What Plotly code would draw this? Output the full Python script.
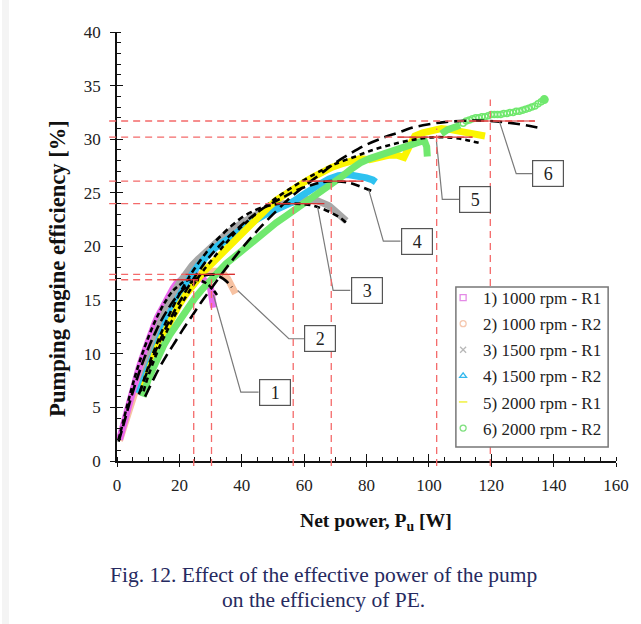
import plotly.graph_objects as go

# ---------------- data ----------------
series_names = ["1) 1000 rpm - R1", "2) 1000 rpm - R2", "3) 1500 rpm - R1",
                "4) 1500 rpm - R2", "5) 2000 rpm - R1", "6) 2000 rpm - R2"]

s1_x = [0.8, 2, 3, 4, 5, 6, 7, 8, 9, 10, 11, 12, 13, 14, 15, 16, 17, 18, 19, 20, 21, 22, 23, 24, 25,
        26, 27, 28, 29, 30, 30.6, 31, 31]
s1_y = [2.0, 3.4, 4.5, 5.5, 6.6, 7.6, 8.6, 9.5, 10.4, 11.2, 12.0, 12.7, 13.4, 14.0, 14.6, 15.2, 15.7,
        16.1, 16.5, 16.8, 17.0, 17.2, 17.3, 17.4, 17.4, 17.3, 17.1, 16.9, 16.6, 16.1, 15.3, 14.6, 14.3]

s2_x = [0.8, 2, 3, 4, 5, 6, 8, 10, 12, 14, 16, 18, 20, 22, 24, 26, 28, 30, 32, 34, 35.5, 36.5, 37.5, 38]
s2_y = [1.9, 3.0, 4.0, 5.1, 6.1, 7.1, 8.9, 10.6, 12.1, 13.4, 14.5, 15.4, 16.1, 16.7, 17.1, 17.4, 17.6,
        17.7, 17.7, 17.5, 17.0, 16.3, 15.8, 15.6]

s3_x = [7.5, 8.5, 10, 12, 14, 16, 18, 20, 22, 24, 26, 28, 30, 32, 34, 36, 38, 40, 43, 46, 49, 52, 55,
        58, 61, 64, 66, 68, 70, 71.5, 72.5, 73.5]
s3_y = [6.6, 7.7, 9.3, 11.3, 13.0, 14.4, 15.6, 16.6, 17.5, 18.2, 18.8, 19.4, 19.9, 20.4, 20.9, 21.4,
        21.8, 22.2, 22.7, 23.2, 23.6, 23.9, 24.1, 24.3, 24.4, 24.3, 24.1, 23.8, 23.3, 22.9, 22.6, 22.4]

s4_x = [7, 8, 9, 10, 12, 14, 16, 18, 20, 22, 24, 26, 28, 30, 32, 35, 38, 41, 44, 47, 50, 53, 56, 59,
        62, 65, 68, 71, 74, 77, 80, 82, 83]
s4_y = [6.3, 7.1, 8.0, 8.8, 10.4, 11.9, 13.2, 14.4, 15.5, 16.5, 17.4, 18.2, 18.9, 19.5, 20.0, 20.6,
        21.3, 21.9, 22.4, 22.9, 23.3, 23.7, 24.1, 24.7, 25.3, 25.8, 26.3, 26.6, 26.7, 26.6, 26.4, 26.2, 26.0]

s5_x = [8.5, 10, 12, 14, 16, 18, 20, 22, 24, 26, 28, 30, 33, 36, 39, 42, 45, 48, 51, 54, 57, 60, 63,
        66, 69, 72, 75, 78, 81, 84, 87, 90, 92, 94, 95.5, 98, 101, 104, 107, 110, 113, 116, 118]
s5_y = [6.8, 8.2, 9.9, 11.3, 12.5, 13.6, 14.6, 15.5, 16.3, 17.0, 17.7, 18.3, 19.2, 20.0, 20.8, 21.7,
        22.6, 23.5, 24.3, 24.9, 25.5, 26.0, 26.5, 27.0, 27.4, 27.7, 28.0, 28.2, 28.1, 28.3, 28.5, 28.5,
        28.3, 29.5, 30.3, 30.6, 30.8, 31.0, 30.9, 30.7, 30.6, 30.4, 30.3]

s6_x = [8.3, 9, 10, 11.5, 13, 15, 17, 19, 21, 23, 25, 27, 29, 31, 33, 35, 37, 39, 41, 43, 45, 48, 51,
        54, 57, 60, 63, 66, 69, 72, 75, 78, 81, 84, 87, 90, 93, 96, 98.5, 99.3, 99.5, None,
        104, 106, 108, 110]
s6_y = [6.0, 6.8, 7.6, 8.6, 9.6, 10.8, 11.8, 12.7, 13.6, 14.4, 15.2, 15.9, 16.6, 17.2, 17.8, 18.4,
        18.9, 19.4, 19.9, 20.4, 20.8, 21.5, 22.2, 22.8, 23.4, 24.0, 24.6, 25.2, 25.8, 26.5, 27.2, 27.8,
        28.2, 28.5, 28.8, 29.1, 29.4, 29.7, 29.9, 29.3, 28.4, None, 30.5, 30.9, 31.1, 31.3]
s6_tail_x = [111, 112, 113, 114, 115, 116, 117, 118, 119, 120, 121, 122, 123, 124, 125, 126, 127,
             128, 129, 130, 131, 132, 133, 134, 135, 136, 137]
s6_tail_y = [31.5, 31.7, 31.8, 31.9, 32.0, 32.0, 32.1, 32.1, 32.2, 32.3, 32.3, 32.3, 32.3, 32.4, 32.4,
             32.5, 32.5, 32.6, 32.6, 32.7, 32.8, 32.9, 33.0, 33.1, 33.3, 33.5, 33.7]

fit1_x = [0.5, 2, 4, 6, 8, 10, 12, 14, 16, 18, 20, 22, 24.6, 27, 29, 31, 32.5]
fit1_y = [2.0, 3.7, 6.0, 8.1, 9.9, 11.5, 12.9, 14.1, 15.1, 15.9, 16.4, 16.8, 16.9, 16.8, 16.5, 15.9, 15.3]
fit2_x = [0.5, 2, 4, 6, 8, 10, 12, 14, 16, 18, 20, 22, 24, 26, 28, 30.3, 32, 34, 36, 36.8]
fit2_y = [1.8, 3.3, 5.4, 7.3, 9.0, 10.5, 11.8, 13.0, 14.0, 14.9, 15.6, 16.2, 16.7, 17.1, 17.3, 17.4,
          17.3, 17.0, 16.5, 16.2]
fit3_x = [7.5, 9, 11, 13, 15, 17, 19, 21, 23, 25, 28, 31, 34, 37, 40, 43, 46, 50, 53, 56.5, 60, 63,
          66, 69, 71.5, 73.5]
fit3_y = [6.5, 7.9, 9.6, 11.1, 12.5, 13.8, 15.0, 16.1, 17.1, 18.0, 19.2, 20.3, 21.2, 22.0, 22.7, 23.2,
          23.6, 23.9, 24.0, 24.0, 23.95, 23.8, 23.5, 23.1, 22.7, 22.2]
fit4_x = [7, 9, 11, 13, 15, 17, 19, 21, 23, 26, 29, 32, 35, 38, 42, 46, 50, 54, 58, 62, 65, 68.7, 72,
          75, 78, 81.5]
fit4_y = [6.2, 7.8, 9.3, 10.7, 12.0, 13.2, 14.3, 15.3, 16.3, 17.6, 18.8, 19.8, 20.7, 21.5, 22.5, 23.4,
          24.1, 24.7, 25.3, 25.7, 25.95, 26.1, 26.05, 25.9, 25.6, 25.2]
fit5_x = [8.5, 10, 12, 14, 16, 18, 21, 24, 27, 30, 34, 38, 42, 46, 50, 55, 60, 65, 70, 76.5, 82, 88,
          94, 98, 102.5, 107, 111, 114, 117]
fit5_y = [6.5, 7.9, 9.5, 10.9, 12.1, 13.3, 14.8, 16.2, 17.5, 18.6, 20.0, 21.3, 22.4, 23.4, 24.3, 25.3,
          26.2, 27.0, 27.7, 28.4, 29.0, 29.5, 29.9, 30.1, 30.2, 30.15, 30.0, 29.8, 29.6]
fit6_x = [9, 12, 14, 16, 18, 21, 24, 27, 30, 34, 38, 42, 46, 50, 55, 60, 65, 70, 75, 80, 85, 90, 95,
          100, 105, 110, 115, 119.7, 124, 128, 132, 136.4]
fit6_y = [6.0, 7.8, 8.9, 9.9, 10.8, 12.2, 13.5, 14.8, 16.0, 17.6, 19.1, 20.5, 21.8, 23.0, 24.4, 25.6,
          26.7, 27.8, 28.7, 29.5, 30.1, 30.6, 31.1, 31.4, 31.6, 31.7, 31.75, 31.7, 31.6, 31.45, 31.25,
          31.0]

# optimum (peak) guide lines
peak_x = [24.6, 30.3, 56.5, 68.7, 102.5, 119.7]
peak_y = [16.9, 17.4, 24.0, 26.1, 30.2, 31.7]
hline_end = [26, 37.8, 66.5, 79, 114, 134]
hsolid_start = [18, 22, 51, 61, 90, 113]
vline_top = [16.9, 17.4, 24.0, 26.1, 31.0, 33.7]

# numbered callouts
callout_labels = ["1", "2", "3", "4", "5", "6"]
callout_x = [50.6, 65.2, 80.0, 96.1, 114.9, 138.3]
callout_y = [6.43, 11.4, 15.9, 20.5, 24.4, 26.8]
leader_x = [[45.4, 39.7, 30.9], [60.0, 55.1, 38.7], [74.8, 69.3, 64.3],
            [90.9, 85.4, 80.7], [109.7, 104.3, 102.4], [133.1, 128.0, 122.7]]
leader_y = [[6.43, 6.43, 15.5], [11.4, 11.4, 15.9], [15.9, 15.9, 23.7],
            [20.5, 20.5, 25.3], [24.4, 24.4, 29.9], [26.8, 26.8, 31.6]]

x_ticks = [0, 20, 40, 60, 80, 100, 120, 140, 160]
y_ticks = [0, 5, 10, 15, 20, 25, 30, 35, 40]

# ---------------- styling ----------------
colors = ["#ea68ec", "#f7c2a2", "#a8a8a8", "#2ec2f0", "#fbf500", "#70e86e"]
legend_colors = ["#e48ae6", "#f5c8b0", "#b8b8b8", "#33b8ee", "#eeee22", "#7ee07e"]
legend_symbols = ["square-open", "circle-open", "x-thin-open", "triangle-up-open",
                  "line-ew-open", "circle-open"]
fit_dash = ["5px,3px", "11px,5px", "6px,4px", "9px,5px", "5px,4px", "12px,6px"]
SERIF = "Liberation Serif"
PW, PH = 508.0, 429.0  # plot area size in px (for paper-coordinate placement)

fig = go.Figure()

series = [(s2_x, s2_y, 1), (s1_x, s1_y, 0), (s3_x, s3_y, 2), (s4_x, s4_y, 3),
          (s5_x, s5_y, 4), (s6_x, s6_y, 5)]
for xs, ys, i in series:
    fig.add_trace(go.Scatter(x=xs, y=ys, mode="lines", line=dict(color=colors[i], width=7),
                             showlegend=False, hoverinfo="skip"))
fig.add_trace(go.Scatter(x=s6_tail_x, y=s6_tail_y, mode="markers",
                         marker=dict(symbol="circle-open", size=6, color=colors[5],
                                     line=dict(width=1.5, color=colors[5])),
                         showlegend=False, hoverinfo="skip"))
fig.add_trace(go.Scatter(x=s6_tail_x[-1:], y=s6_tail_y[-1:], mode="markers",
                         marker=dict(symbol="circle", size=9, color=colors[5]),
                         showlegend=False, hoverinfo="skip"))

fits = [(fit1_x, fit1_y), (fit2_x, fit2_y), (fit3_x, fit3_y), (fit4_x, fit4_y),
        (fit5_x, fit5_y), (fit6_x, fit6_y)]
for i, (xs, ys) in enumerate(fits):
    fig.add_trace(go.Scatter(x=xs, y=ys, mode="lines", line_shape="spline",
                             line=dict(color="black", width=2.6, dash=fit_dash[i]),
                             showlegend=False, hoverinfo="skip"))

for i in range(6):
    fig.add_trace(go.Scatter(x=leader_x[i], y=leader_y[i], mode="lines",
                             line=dict(color="#7a7a7a", width=1.2),
                             showlegend=False, hoverinfo="skip"))

# legend-only entries
for i, name in enumerate(series_names):
    fig.add_trace(go.Scatter(x=[None], y=[None], mode="markers", name=name,
                             legendgroup=name,
                             marker=dict(symbol=legend_symbols[i], size=6, color=legend_colors[i],
                                         line=dict(width=1.3, color=legend_colors[i]))))

# overlay axes carrying the inner half of the major ticks
fig.add_trace(go.Scatter(x=[None], y=[None], xaxis="x2", yaxis="y2", showlegend=False,
                         hoverinfo="skip"))

shapes = []
for i in range(6):
    shapes.append(dict(type="line", xref="paper", yref="y", x0=-8 / PW, x1=hline_end[i] / 160.0,
                       y0=peak_y[i], y1=peak_y[i],
                       line=dict(color="#f46a6a", width=1.3, dash="7px,5px"), layer="above"))
    shapes.append(dict(type="line", xref="x", yref="y", x0=hsolid_start[i], x1=hline_end[i],
                       y0=peak_y[i], y1=peak_y[i],
                       line=dict(color="#d83030", width=1.2), layer="above"))
    shapes.append(dict(type="line", xref="x", yref="paper", x0=peak_x[i], x1=peak_x[i],
                       y0=-5 / PH, y1=vline_top[i] / 40.0,
                       line=dict(color="#f46a6a", width=1.3, dash="7px,5px"), layer="above"))
# legend frame (white box hiding the guide line behind it)
shapes.append(dict(type="rect", xref="paper", yref="paper",
                   x0=(462 - 117) / PW, x1=(617 - 117) / PW,
                   y0=(461 - 447) / PH, y1=(461 - 287) / PH,
                   fillcolor="white", line=dict(color="#777", width=1.5), layer="above"))
# faint page edge strip
shapes.append(dict(type="rect", xref="paper", yref="paper", x0=-117 / PW, x1=-110 / PW,
                   y0=-163 / PH, y1=1 + 32 / PH, fillcolor="#f4f4f4", line=dict(width=0),
                   layer="below"))

annotations = []
for i, lab in enumerate(callout_labels):
    annotations.append(dict(x=callout_x[i], y=callout_y[i], xref="x", yref="y", text=lab,
                            showarrow=False, font=dict(family=SERIF, size=18, color="#222"),
                            bgcolor="white", bordercolor="#555", borderwidth=1.2,
                            width=30, height=25, borderpad=0))
annotations += [
    dict(x=(381 - 117) / PW, y=-0.142, xref="paper", yref="paper", showarrow=False,
         text="<b>Net power, P<sub>u</sub> [W]</b>",
         font=dict(family=SERIF, size=19.6, color="#111"), xanchor="center", yanchor="middle"),
    dict(x=-0.118, y=0.448, xref="paper", yref="paper", showarrow=False, textangle=-90,
         text="<b>Pumping engine efficiency [%]</b>",
         font=dict(family=SERIF, size=22.6, color="#111"), xanchor="center", yanchor="middle"),
    dict(x=(327 - 117) / PW, y=-0.2657, xref="paper", yref="paper", showarrow=False,
         text="Fig. 12. Effect of the effective power of the pump",
         font=dict(family=SERIF, size=21.5, color="#262a60"), xanchor="center", yanchor="middle"),
    dict(x=(327 - 117) / PW, y=-0.324, xref="paper", yref="paper", showarrow=False,
         text="on the efficiency of PE.",
         font=dict(family=SERIF, size=21.5, color="#262a60"), xanchor="center", yanchor="middle"),
]

axis_font = dict(family=SERIF, size=17, color="#222")
fig.update_layout(
    width=641, height=624,
    margin=dict(l=117, r=16, t=32, b=163),
    paper_bgcolor="white", plot_bgcolor="white",
    font=dict(family=SERIF, size=16, color="#222"),
    showlegend=True,
    legend=dict(x=(449 - 117) / PW, y=(461 - 280) / PH, xanchor="left", yanchor="top",
                bgcolor="rgba(0,0,0,0)", borderwidth=0,
                font=dict(family=SERIF, size=17, color="#222"),
                tracegroupgap=1, itemwidth=30),
    xaxis=dict(range=[0, 160], tickvals=x_ticks, ticks="outside", ticklen=4, tickwidth=1.3,
               tickcolor="#111", showline=True, linecolor="#111", linewidth=1.6, showgrid=False,
               zeroline=False, tickfont=axis_font, ticklabelstandoff=4,
               minor=dict(dtick=5, ticks="inside", ticklen=4, tickcolor="#111", tickwidth=1.1)),
    yaxis=dict(range=[0, 40], tickvals=y_ticks, ticks="outside", ticklen=5, tickwidth=1.3,
               tickcolor="#111", showline=True, linecolor="#111", linewidth=1.6, showgrid=False,
               zeroline=False, tickfont=axis_font, ticklabelstandoff=6,
               minor=dict(dtick=1, ticks="inside", ticklen=4, tickcolor="#111", tickwidth=1.1)),
    xaxis2=dict(range=[0, 160], overlaying="x", anchor="y2", side="bottom", tickvals=x_ticks,
                ticks="inside", ticklen=7, tickwidth=1.3, tickcolor="#111", showticklabels=False,
                showline=False, showgrid=False, zeroline=False),
    yaxis2=dict(range=[0, 40], overlaying="y", anchor="x2", side="left", tickvals=y_ticks,
                ticks="inside", ticklen=6, tickwidth=1.3, tickcolor="#111", showticklabels=False,
                showline=False, showgrid=False, zeroline=False),
    shapes=shapes, annotations=annotations,
)

fig.write_html("out.html")
